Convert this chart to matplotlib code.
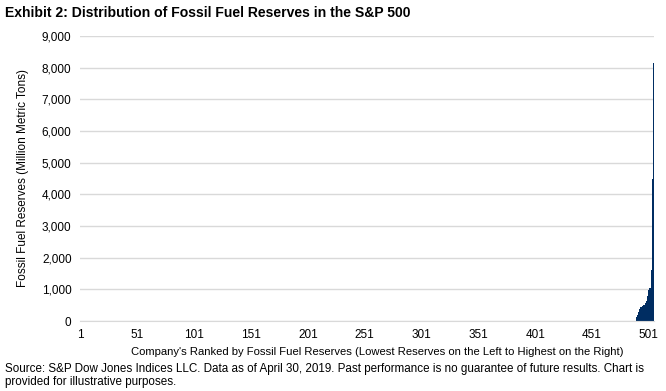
import numpy as np
import matplotlib
matplotlib.use("Agg")
import matplotlib.pyplot as plt
from matplotlib.ticker import FuncFormatter

plt.rcParams['font.family'] = ['Liberation Sans', 'DejaVu Sans']

# ---- data ----
n_companies = 505
# reserves of the top-ranked companies (ranks 490..505), the rest are ~0
top_values = [120, 200, 300, 380, 430, 470, 500, 520, 560, 640, 780, 980,
              1050, 1620, 4480, 8150]
tick_ranks = [1, 51, 101, 151, 201, 251, 301, 351, 401, 451, 501]
y_ticks = [0, 1000, 2000, 3000, 4000, 5000, 6000, 7000, 8000, 9000]

title = "Exhibit 2: Distribution of Fossil Fuel Reserves in the S&P 500"
x_label = ("Company's Ranked by Fossil Fuel Reserves "
           "(Lowest Reserves on the Left to Highest on the Right)")
y_label = "Fossil Fuel Reserves (Million Metric Tons)"
source = ("Source: S&P Dow Jones Indices LLC. Data as of April 30, 2019. "
          "Past performance is no guarantee of future results. Chart is\n"
          "provided for illustrative purposes.")

ranks = np.arange(1, n_companies + 1)
values = np.zeros(n_companies)
values[-len(top_values):] = top_values

fig = plt.figure(figsize=(6.66, 3.91), dpi=100)
ax = fig.add_axes([0.12, 0.179, 0.862, 0.729])

ax.bar(ranks, values, width=1.0, color='#002D62', linewidth=0)

ax.set_xlim(0.5, n_companies + 0.5)
ax.set_ylim(0, 9000)
ax.set_yticks(y_ticks)
ax.yaxis.set_major_formatter(FuncFormatter(lambda v, p: f"{int(v):,}"))
ax.set_xticks(tick_ranks)
ax.set_xticklabels([str(t) for t in tick_ranks])

ax.grid(axis='y', color='#D9D9D9', linewidth=1.0)
ax.set_axisbelow(True)
for s in ['top', 'right', 'left']:
    ax.spines[s].set_visible(False)
ax.spines['bottom'].set_color('#D9D9D9')
ax.tick_params(length=0, labelsize=8.5, colors='black')
ax.tick_params(axis='y', pad=6)
ax.tick_params(axis='x', pad=6)

ax.set_xlabel(x_label, fontsize=8.1, labelpad=2)
ax.xaxis.set_label_coords(0.518, -0.09)
ax.set_ylabel(y_label, fontsize=8.5, labelpad=9)

fig.text(0.008, 0.968, title, fontsize=10.1, fontweight='bold', va='center')
fig.text(0.008, 0.008, source, fontsize=8.4, va='bottom', linespacing=1.1)

fig.savefig("out.png", dpi=100)
